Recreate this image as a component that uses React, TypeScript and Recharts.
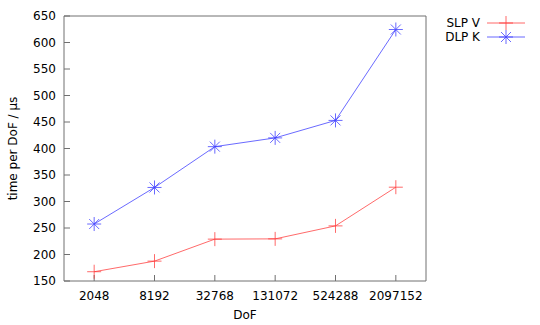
import React from "react";
import { LineChart, Line, XAxis, YAxis, Legend } from "recharts";

const dofValues = [2048, 8192, 32768, 131072, 524288, 2097152];
const dofLabels = ["2048", "8192", "32768", "131072", "524288", "2097152"];
const slpV = [167.5, 187.5, 229, 229.5, 254, 327];
const dlpK = [257.5, 326.5, 403.5, 420, 453, 624.5];
const yTicks = [150, 200, 250, 300, 350, 400, 450, 500, 550, 600, 650];
const seriesNames = ["SLP V", "DLP K"];
const seriesColors = ["#ff3030", "#3030ff"];

const data = dofValues.map((d, i) => ({ dof: d, slp: slpV[i], dlp: dlpK[i] }));

const FONT = "'DejaVu Sans', sans-serif";
const FS = 12;
const AXIS = "#707070";

const drawPlus = (cx: number, cy: number, color: string) => (
  <g stroke={color} strokeWidth={0.9} opacity={0.8}>
    <line x1={cx - 7} y1={cy} x2={cx + 7} y2={cy} />
    <line x1={cx} y1={cy - 7} x2={cx} y2={cy + 7} />
  </g>
);

const drawStar = (cx: number, cy: number, color: string) => (
  <g stroke={color} strokeWidth={0.9} opacity={0.8}>
    <line x1={cx - 7} y1={cy} x2={cx + 7} y2={cy} />
    <line x1={cx} y1={cy - 7} x2={cx} y2={cy + 7} />
    <line x1={cx - 5} y1={cy - 5} x2={cx + 5} y2={cy + 5} />
    <line x1={cx - 5} y1={cy + 5} x2={cx + 5} y2={cy - 5} />
  </g>
);

const plusDot = (p: any) => {
  if (p.cx == null || p.cy == null) return <g key={p.index} />;
  return <g key={"p" + p.index}>{drawPlus(p.cx, p.cy, seriesColors[0])}</g>;
};
const starDot = (p: any) => {
  if (p.cx == null || p.cy == null) return <g key={p.index} />;
  return <g key={"s" + p.index}>{drawStar(p.cx, p.cy, seriesColors[1])}</g>;
};

const renderLegend = (props: any) => {
  const payload = props.payload || [];
  const names: string[] = payload.map((e: any) => e.value);
  const ordered = seriesNames.filter((n) => names.indexOf(n) >= 0);
  return (
    <svg width={540} height={50} style={{ display: "block" }}>
      {ordered.map((name: string, i: number) => {
        const y = 23 + i * 14;
        const idx = seriesNames.indexOf(name);
        const color = seriesColors[idx];
        return (
          <g key={name}>
            <text x={480} y={y} dy="0.35em" textAnchor="end" fontFamily={FONT} fontSize={FS} fill="#000">
              {name}
            </text>
            <line x1={487} y1={y} x2={525} y2={y} stroke={color} strokeWidth={0.9} opacity={0.8} />
            {idx === 0 ? drawPlus(506, y, color) : drawStar(506, y, color)}
          </g>
        );
      })}
    </svg>
  );
};

const yLabel = (props: any) => {
  const vb = props.viewBox || {};
  const cy = vb.y + vb.height / 2;
  return (
    <text x={13} y={cy} transform={`rotate(-90, 13, ${cy})`} textAnchor="middle" dy="0.35em" fontFamily={FONT} fontSize={FS} fill="#000">
      time per DoF / µs
    </text>
  );
};

const xLabel = (props: any) => {
  const vb = props.viewBox || {};
  const cx = vb.x + vb.width / 2;
  return (
    <text x={cx} y={315} textAnchor="middle" dy="0.35em" fontFamily={FONT} fontSize={FS} fill="#000">
      DoF
    </text>
  );
};

const tickFmt = (v: number) => {
  const i = dofValues.indexOf(v);
  return i >= 0 ? dofLabels[i] : String(v);
};

export default function App() {
  return (
    <div style={{ position: "absolute", left: 0, top: 0, width: 540, height: 325, background: "#fff" }}>
      <LineChart width={540} height={325} data={data} margin={{ top: 15, right: 113, bottom: 0, left: 0 }}>
        <XAxis
          dataKey="dof"
          type="number"
          scale="log"
          domain={[1024, 4194304]}
          ticks={dofValues}
          tickFormatter={tickFmt}
          allowDataOverflow
          height={44}
          tickSize={-6}
          tickMargin={16}
          stroke={AXIS}
          tickLine={{ stroke: AXIS }}
          tick={{ fontFamily: FONT, fontSize: FS, fill: "#000" }}
          interval={0}
          label={xLabel}
        />
        <XAxis
          xAxisId="t"
          orientation="top"
          type="number"
          scale="log"
          domain={[1024, 4194304]}
          ticks={dofValues}
          allowDataOverflow
          height={1}
          tickSize={-6}
          stroke={AXIS}
          tickLine={{ stroke: AXIS }}
          tick={false}
          interval={0}
        />
        <YAxis
          type="number"
          domain={[150, 650]}
          ticks={yTicks}
          width={64}
          tickSize={-6}
          tickMargin={14}
          stroke={AXIS}
          tickLine={{ stroke: AXIS }}
          tick={{ fontFamily: FONT, fontSize: FS, fill: "#000" }}
          interval={0}
          label={yLabel}
        />
        <YAxis
          yAxisId="r"
          orientation="right"
          type="number"
          domain={[150, 650]}
          ticks={yTicks}
          width={1}
          tickSize={-6}
          stroke={AXIS}
          tickLine={{ stroke: AXIS }}
          tick={false}
          interval={0}
        />
        <Legend
          content={renderLegend}
          layout="horizontal"
          verticalAlign="middle"
          align="center"
          wrapperStyle={{ left: 0, top: 0, width: 540, height: 50 }}
        />
        <Line
          name={seriesNames[0]}
          dataKey="slp"
          stroke={seriesColors[0]}
          strokeWidth={0.9}
          strokeOpacity={0.8}
          dot={plusDot}
          activeDot={false}
          isAnimationActive={false}
        />
        <Line
          name={seriesNames[1]}
          dataKey="dlp"
          stroke={seriesColors[1]}
          strokeWidth={0.9}
          strokeOpacity={0.8}
          dot={starDot}
          activeDot={false}
          isAnimationActive={false}
        />
      </LineChart>
    </div>
  );
}
